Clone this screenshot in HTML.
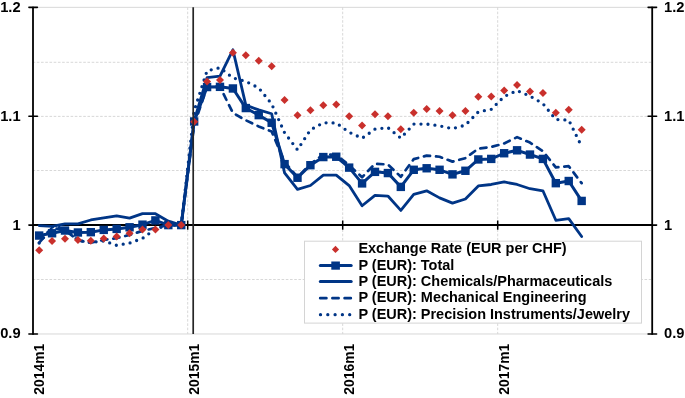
<!DOCTYPE html>
<html><head><meta charset="utf-8"><title>Chart</title>
<style>
html,body{margin:0;padding:0;background:#fff;}
body{width:685px;height:398px;overflow:hidden;}
svg{display:block;}
.t{font-family:"Liberation Sans",Arial,sans-serif;font-weight:bold;font-size:14.7px;fill:#000;}
.lg{font-family:"Liberation Sans",Arial,sans-serif;font-weight:bold;font-size:14.1px;fill:#000;}
.tx{font-family:"Liberation Sans",Arial,sans-serif;font-weight:bold;font-size:14.6px;fill:#000;}
</style></head><body>
<svg width="685" height="398" viewBox="0 0 685 398">
<rect x="0" y="0" width="685" height="398" fill="#fff"/>
<line x1="33.5" y1="62.30" x2="651" y2="62.30" stroke="#D4D4D4" stroke-width="0.9" stroke-dasharray="2.6 1.62" stroke-dashoffset="0.9"/>
<line x1="33.5" y1="116.40" x2="651" y2="116.40" stroke="#D4D4D4" stroke-width="0.9" stroke-dasharray="2.6 1.62" stroke-dashoffset="0.9"/>
<line x1="33.5" y1="170.50" x2="651" y2="170.50" stroke="#D4D4D4" stroke-width="0.9" stroke-dasharray="2.6 1.62" stroke-dashoffset="0.9"/>
<line x1="33.5" y1="279.50" x2="651" y2="279.50" stroke="#D4D4D4" stroke-width="0.9" stroke-dasharray="2.6 1.62" stroke-dashoffset="0.9"/>
<line x1="33" y1="7.36" x2="652" y2="7.36" stroke="#D4D4D4" stroke-width="0.9"/>
<line x1="33" y1="333.97" x2="652" y2="333.97" stroke="#D4D4D4" stroke-width="0.9"/>
<line x1="187.70" y1="7.36" x2="187.70" y2="333.97" stroke="#D4D4D4" stroke-width="0.9" stroke-dasharray="2.6 1.67"/>
<line x1="342.70" y1="7.36" x2="342.70" y2="333.97" stroke="#D4D4D4" stroke-width="0.9" stroke-dasharray="2.6 1.67"/>
<line x1="497.70" y1="7.36" x2="497.70" y2="333.97" stroke="#D4D4D4" stroke-width="0.9" stroke-dasharray="2.6 1.67"/>
<line x1="33" y1="225.0" x2="652" y2="225.0" stroke="#000" stroke-width="1.8"/>
<line x1="187.70" y1="220.50" x2="187.70" y2="229.70" stroke="#000" stroke-width="1.5"/>
<line x1="342.70" y1="220.50" x2="342.70" y2="229.70" stroke="#000" stroke-width="1.5"/>
<line x1="497.70" y1="220.50" x2="497.70" y2="229.70" stroke="#000" stroke-width="1.5"/>
<line x1="33.0" y1="6.66" x2="33.0" y2="334.67" stroke="#000" stroke-width="1.8"/>
<line x1="28.9" y1="7.36" x2="37.4" y2="7.36" stroke="#000" stroke-width="1.6" stroke-linecap="round"/>
<line x1="28.9" y1="116.23" x2="37.4" y2="116.23" stroke="#000" stroke-width="1.6" stroke-linecap="round"/>
<line x1="28.9" y1="225.10" x2="37.4" y2="225.10" stroke="#000" stroke-width="1.6" stroke-linecap="round"/>
<line x1="28.9" y1="333.97" x2="37.4" y2="333.97" stroke="#000" stroke-width="1.6" stroke-linecap="round"/>
<line x1="652.2" y1="6.66" x2="652.2" y2="334.67" stroke="#000" stroke-width="1.8"/>
<line x1="648.1" y1="7.36" x2="656.6" y2="7.36" stroke="#000" stroke-width="1.6" stroke-linecap="round"/>
<line x1="648.1" y1="116.23" x2="656.6" y2="116.23" stroke="#000" stroke-width="1.6" stroke-linecap="round"/>
<line x1="648.1" y1="225.10" x2="656.6" y2="225.10" stroke="#000" stroke-width="1.6" stroke-linecap="round"/>
<line x1="648.1" y1="333.97" x2="656.6" y2="333.97" stroke="#000" stroke-width="1.6" stroke-linecap="round"/>
<polyline points="39.16,225.54 52.08,226.41 64.99,223.79 77.91,223.79 90.83,219.98 103.74,217.91 116.66,215.85 129.57,218.13 142.49,213.67 155.41,213.67 168.32,221.18 181.24,225.10 194.16,120.58 207.07,77.69 219.99,76.17 232.91,49.82 245.82,105.13 258.74,109.92 271.66,113.73 284.57,172.84 297.49,189.39 310.41,185.47 323.32,175.13 336.24,175.13 349.16,185.58 362.07,205.72 374.99,195.38 387.91,196.03 400.82,210.40 413.74,194.29 426.66,190.81 439.57,197.88 452.49,203.11 465.41,198.97 478.32,185.91 491.24,184.49 504.16,181.99 517.08,184.49 529.99,188.74 542.91,190.81 555.83,220.31 568.74,218.57 581.66,236.53" fill="none" stroke="#003586" stroke-width="2.8" stroke-linejoin="round" stroke-linecap="round"/>
<polyline points="39.16,242.74 52.08,227.82 64.99,230.00 77.91,240.45 90.83,242.74 103.74,239.91 116.66,238.16 129.57,234.90 142.49,230.87 155.41,227.93 168.32,225.10 181.24,225.10 194.16,124.94 207.07,87.05 219.99,86.84 232.91,112.96 245.82,120.26 258.74,126.46 271.66,131.47 284.57,161.96 297.49,177.20 310.41,164.13 323.32,154.33 336.24,154.77 349.16,165.22 362.07,177.20 374.99,163.81 387.91,164.46 400.82,176.76 413.74,159.12 426.66,155.64 439.57,156.73 452.49,161.63 465.41,158.14 478.32,148.67 491.24,146.93 504.16,143.45 517.08,137.13 529.99,142.58 542.91,151.18 555.83,167.40 568.74,166.20 581.66,183.19" fill="none" stroke="#003586" stroke-width="2.7" stroke-linejoin="round" stroke-linecap="round" stroke-dasharray="6.2 6"/>
<polyline points="39.16,243.06 52.08,226.95 64.99,227.82 77.91,240.34 90.83,242.52 103.74,240.89 116.66,245.35 129.57,243.06 142.49,238.38 155.41,228.91 168.32,225.10 181.24,225.10 194.16,110.79 207.07,70.72 219.99,67.78 232.91,77.91 245.82,81.39 258.74,87.92 271.66,103.93 284.57,132.78 297.49,149.76 310.41,129.84 323.32,122.76 336.24,122.98 349.16,132.23 362.07,138.22 374.99,129.19 387.91,127.66 400.82,138.11 413.74,124.07 426.66,124.07 439.57,125.81 452.49,128.64 465.41,125.16 478.32,111.88 491.24,109.37 504.16,96.52 517.08,90.54 529.99,96.09 542.91,103.60 555.83,119.50 568.74,120.04 581.66,146.50" fill="none" stroke="#003586" stroke-width="3.3" stroke-linejoin="round" stroke-linecap="round" stroke-dasharray="0 7"/>
<polyline points="39.16,235.55 52.08,233.27 64.99,230.54 77.91,232.50 90.83,232.18 103.74,229.89 116.66,228.91 129.57,227.28 142.49,224.66 155.41,220.42 168.32,225.10 181.24,225.10 194.16,121.46 207.07,87.05 219.99,86.84 232.91,88.47 245.82,108.06 258.74,115.14 271.66,122.76 284.57,164.13 297.49,177.74 310.41,165.22 323.32,157.06 336.24,156.73 349.16,167.62 362.07,183.40 374.99,171.86 387.91,173.06 400.82,186.89 413.74,169.79 426.66,168.27 439.57,169.79 452.49,174.37 465.41,170.77 478.32,159.45 491.24,158.91 504.16,153.25 517.08,150.31 529.99,154.55 542.91,158.91 555.83,183.19 568.74,181.01 581.66,200.93" fill="none" stroke="#003586" stroke-width="3" stroke-linejoin="round" stroke-linecap="round"/>
<rect x="34.96" y="231.35" width="8.4" height="8.4" fill="#003586"/>
<rect x="47.88" y="229.07" width="8.4" height="8.4" fill="#003586"/>
<rect x="60.79" y="226.34" width="8.4" height="8.4" fill="#003586"/>
<rect x="73.71" y="228.30" width="8.4" height="8.4" fill="#003586"/>
<rect x="86.62" y="227.98" width="8.4" height="8.4" fill="#003586"/>
<rect x="99.54" y="225.69" width="8.4" height="8.4" fill="#003586"/>
<rect x="112.46" y="224.71" width="8.4" height="8.4" fill="#003586"/>
<rect x="125.37" y="223.08" width="8.4" height="8.4" fill="#003586"/>
<rect x="138.29" y="220.46" width="8.4" height="8.4" fill="#003586"/>
<rect x="151.21" y="216.22" width="8.4" height="8.4" fill="#003586"/>
<rect x="164.12" y="220.90" width="8.4" height="8.4" fill="#003586"/>
<rect x="177.04" y="220.90" width="8.4" height="8.4" fill="#003586"/>
<rect x="189.96" y="117.26" width="8.4" height="8.4" fill="#003586"/>
<rect x="202.88" y="82.85" width="8.4" height="8.4" fill="#003586"/>
<rect x="215.79" y="82.64" width="8.4" height="8.4" fill="#003586"/>
<rect x="228.71" y="84.27" width="8.4" height="8.4" fill="#003586"/>
<rect x="241.62" y="103.86" width="8.4" height="8.4" fill="#003586"/>
<rect x="254.54" y="110.94" width="8.4" height="8.4" fill="#003586"/>
<rect x="267.46" y="118.56" width="8.4" height="8.4" fill="#003586"/>
<rect x="280.38" y="159.93" width="8.4" height="8.4" fill="#003586"/>
<rect x="293.29" y="173.54" width="8.4" height="8.4" fill="#003586"/>
<rect x="306.21" y="161.02" width="8.4" height="8.4" fill="#003586"/>
<rect x="319.12" y="152.86" width="8.4" height="8.4" fill="#003586"/>
<rect x="332.04" y="152.53" width="8.4" height="8.4" fill="#003586"/>
<rect x="344.96" y="163.42" width="8.4" height="8.4" fill="#003586"/>
<rect x="357.88" y="179.20" width="8.4" height="8.4" fill="#003586"/>
<rect x="370.79" y="167.66" width="8.4" height="8.4" fill="#003586"/>
<rect x="383.71" y="168.86" width="8.4" height="8.4" fill="#003586"/>
<rect x="396.62" y="182.69" width="8.4" height="8.4" fill="#003586"/>
<rect x="409.54" y="165.59" width="8.4" height="8.4" fill="#003586"/>
<rect x="422.46" y="164.07" width="8.4" height="8.4" fill="#003586"/>
<rect x="435.38" y="165.59" width="8.4" height="8.4" fill="#003586"/>
<rect x="448.29" y="170.17" width="8.4" height="8.4" fill="#003586"/>
<rect x="461.21" y="166.57" width="8.4" height="8.4" fill="#003586"/>
<rect x="474.12" y="155.25" width="8.4" height="8.4" fill="#003586"/>
<rect x="487.04" y="154.71" width="8.4" height="8.4" fill="#003586"/>
<rect x="499.96" y="149.05" width="8.4" height="8.4" fill="#003586"/>
<rect x="512.88" y="146.11" width="8.4" height="8.4" fill="#003586"/>
<rect x="525.79" y="150.35" width="8.4" height="8.4" fill="#003586"/>
<rect x="538.71" y="154.71" width="8.4" height="8.4" fill="#003586"/>
<rect x="551.62" y="178.99" width="8.4" height="8.4" fill="#003586"/>
<rect x="564.54" y="176.81" width="8.4" height="8.4" fill="#003586"/>
<rect x="577.46" y="196.73" width="8.4" height="8.4" fill="#003586"/>
<path d="M39.16 246.36L43.16 250.36L39.16 254.36L35.16 250.36Z" fill="#C9302C"/>
<path d="M52.08 237.10L56.08 241.10L52.08 245.10L48.08 241.10Z" fill="#C9302C"/>
<path d="M64.99 234.71L68.99 238.71L64.99 242.71L60.99 238.71Z" fill="#C9302C"/>
<path d="M77.91 236.12L81.91 240.12L77.91 244.12L73.91 240.12Z" fill="#C9302C"/>
<path d="M90.83 236.67L94.83 240.67L90.83 244.67L86.83 240.67Z" fill="#C9302C"/>
<path d="M103.74 234.38L107.74 238.38L103.74 242.38L99.74 238.38Z" fill="#C9302C"/>
<path d="M116.66 232.53L120.66 236.53L116.66 240.53L112.66 236.53Z" fill="#C9302C"/>
<path d="M129.57 229.37L133.57 233.37L129.57 237.37L125.57 233.37Z" fill="#C9302C"/>
<path d="M142.49 225.56L146.49 229.56L142.49 233.56L138.49 229.56Z" fill="#C9302C"/>
<path d="M155.41 225.56L159.41 229.56L155.41 233.56L151.41 229.56Z" fill="#C9302C"/>
<path d="M168.32 221.10L172.32 225.10L168.32 229.10L164.32 225.10Z" fill="#C9302C"/>
<path d="M181.24 221.10L185.24 225.10L181.24 229.10L177.24 225.10Z" fill="#C9302C"/>
<path d="M194.16 117.67L198.16 121.67L194.16 125.67L190.16 121.67Z" fill="#C9302C"/>
<path d="M207.07 77.61L211.07 81.61L207.07 85.61L203.07 81.61Z" fill="#C9302C"/>
<path d="M219.99 75.98L223.99 79.98L219.99 83.98L215.99 79.98Z" fill="#C9302C"/>
<path d="M232.91 48.76L236.91 52.76L232.91 56.76L228.91 52.76Z" fill="#C9302C"/>
<path d="M245.82 51.26L249.82 55.26L245.82 59.26L241.82 55.26Z" fill="#C9302C"/>
<path d="M258.74 56.71L262.74 60.71L258.74 64.71L254.74 60.71Z" fill="#C9302C"/>
<path d="M271.66 62.15L275.66 66.15L271.66 70.15L267.66 66.15Z" fill="#C9302C"/>
<path d="M284.57 95.90L288.57 99.90L284.57 103.90L280.57 99.90Z" fill="#C9302C"/>
<path d="M297.49 111.14L301.49 115.14L297.49 119.14L293.49 115.14Z" fill="#C9302C"/>
<path d="M310.41 106.13L314.41 110.13L310.41 114.13L306.41 110.13Z" fill="#C9302C"/>
<path d="M323.32 101.34L327.32 105.34L323.32 109.34L319.32 105.34Z" fill="#C9302C"/>
<path d="M336.24 100.58L340.24 104.58L336.24 108.58L332.24 104.58Z" fill="#C9302C"/>
<path d="M349.16 112.23L353.16 116.23L349.16 120.23L345.16 116.23Z" fill="#C9302C"/>
<path d="M362.07 121.48L366.07 125.48L362.07 129.48L358.07 125.48Z" fill="#C9302C"/>
<path d="M374.99 110.16L378.99 114.16L374.99 118.16L370.99 114.16Z" fill="#C9302C"/>
<path d="M387.91 112.23L391.91 116.23L387.91 120.23L383.91 116.23Z" fill="#C9302C"/>
<path d="M400.82 125.29L404.82 129.29L400.82 133.29L396.82 129.29Z" fill="#C9302C"/>
<path d="M413.74 108.75L417.74 112.75L413.74 116.75L409.74 112.75Z" fill="#C9302C"/>
<path d="M426.66 104.94L430.66 108.94L426.66 112.94L422.66 108.94Z" fill="#C9302C"/>
<path d="M439.57 107.00L443.57 111.00L439.57 115.00L435.57 111.00Z" fill="#C9302C"/>
<path d="M452.49 111.25L456.49 115.25L452.49 119.25L448.49 115.25Z" fill="#C9302C"/>
<path d="M465.41 107.00L469.41 111.00L465.41 115.00L461.41 111.00Z" fill="#C9302C"/>
<path d="M478.32 92.63L482.32 96.63L478.32 100.63L474.32 96.63Z" fill="#C9302C"/>
<path d="M491.24 92.52L495.24 96.52L491.24 100.52L487.24 96.52Z" fill="#C9302C"/>
<path d="M504.16 86.54L508.16 90.54L504.16 94.54L500.16 90.54Z" fill="#C9302C"/>
<path d="M517.08 81.09L521.08 85.09L517.08 89.09L513.08 85.09Z" fill="#C9302C"/>
<path d="M529.99 87.41L533.99 91.41L529.99 95.41L525.99 91.41Z" fill="#C9302C"/>
<path d="M542.91 88.93L546.91 92.93L542.91 96.93L538.91 92.93Z" fill="#C9302C"/>
<path d="M555.83 108.64L559.83 112.64L555.83 116.64L551.83 112.64Z" fill="#C9302C"/>
<path d="M568.74 105.81L572.74 109.81L568.74 113.81L564.74 109.81Z" fill="#C9302C"/>
<path d="M581.66 125.73L585.66 129.73L581.66 133.73L577.66 129.73Z" fill="#C9302C"/>
<line x1="193.2" y1="7.36" x2="193.2" y2="333.97" stroke="#262626" stroke-width="1.7"/>
<text x="20.6" y="11.76" text-anchor="end" class="t">1.2</text>
<text x="664" y="11.76" class="t">1.2</text>
<text x="20.6" y="120.63" text-anchor="end" class="t">1.1</text>
<text x="664" y="120.63" class="t">1.1</text>
<text x="20.6" y="229.50" text-anchor="end" class="t">1</text>
<text x="664" y="229.50" class="t">1</text>
<text x="20.6" y="338.37" text-anchor="end" class="t">0.9</text>
<text x="664" y="338.37" class="t">0.9</text>
<text transform="translate(44.46,343.8) rotate(-90) scale(0.951,1)" text-anchor="end" class="tx">2014m1</text>
<text transform="translate(199.46,343.8) rotate(-90) scale(0.951,1)" text-anchor="end" class="tx">2015m1</text>
<text transform="translate(354.46,343.8) rotate(-90) scale(0.951,1)" text-anchor="end" class="tx">2016m1</text>
<text transform="translate(509.46,343.8) rotate(-90) scale(0.951,1)" text-anchor="end" class="tx">2017m1</text>
<rect x="304.5" y="241.2" width="337" height="81.9" fill="#fff" stroke="#D4D4D4" stroke-width="1"/>
<path d="M335.5 245.8L339.1 249.4L335.5 253.0L331.9 249.4Z" fill="#C9302C"/>
<line x1="320.3" y1="265.6" x2="351.2" y2="265.6" stroke="#003586" stroke-width="3" stroke-linecap="round"/>
<rect x="331.3" y="261.5" width="8.6" height="8.2" fill="#003586"/>
<line x1="320.3" y1="281.6" x2="351.2" y2="281.6" stroke="#003586" stroke-width="3" stroke-linecap="round"/>
<line x1="320.2" y1="298.2" x2="351.5" y2="298.2" stroke="#003586" stroke-width="2.7" stroke-linecap="round" stroke-dasharray="6.2 6"/>
<line x1="320.5" y1="314.7" x2="350" y2="314.7" stroke="#003586" stroke-width="3.3" stroke-linecap="round" stroke-dasharray="0 7.3"/>
<text transform="translate(358.4,253.30) scale(1.027,1)" class="lg">Exchange Rate (EUR per CHF)</text>
<text transform="translate(358.4,269.50) scale(1.027,1)" class="lg">P (EUR): Total</text>
<text transform="translate(358.4,285.50) scale(1.027,1)" class="lg">P (EUR): Chemicals/Pharmaceuticals</text>
<text transform="translate(358.4,302.10) scale(1.027,1)" class="lg">P (EUR): Mechanical Engineering</text>
<text transform="translate(358.4,318.60) scale(1.027,1)" class="lg">P (EUR): Precision Instruments/Jewelry</text>
</svg>
</body></html>
